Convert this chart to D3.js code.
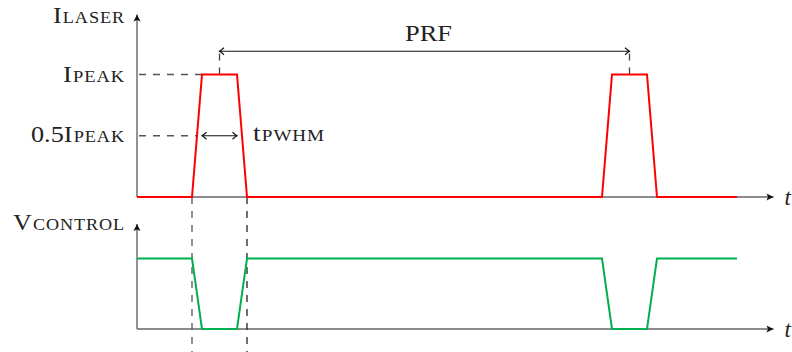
<!DOCTYPE html>
<html>
<head>
<meta charset="utf-8">
<script src="https://cdn.jsdelivr.net/npm/d3@7"></script>
<style>
  body { margin: 0; background: #fff; }
  svg { display: block; }
  text { font-family: "Liberation Serif", "DejaVu Serif", serif; fill: #222; }
</style>
</head>
<body>
<svg id="chart" width="792" height="352"></svg>
<script>
// time samples of the two waveforms (arbitrary time units)
var times = [0, 11, 13, 20, 22, 93, 95, 102, 104, 120];
var laser = [0, 0, 1, 1, 0, 0, 1, 1, 0, 0];
var control = [1, 1, 0, 0, 1, 1, 0, 0, 1, 1];
var tMax = 127.3;      // end of the time axes
var levelMax = 1.49;   // end of the vertical axes
var halfLevel = 0.5;
var pwhm = [13, 20];         // t_PWHM arrow
var prf = [16.5, 98.5];      // PRF arrow (pulse centres)
var edges = [11, 22];        // vertical guide lines
var prfLevel = 1.19;

var svg = d3.select("#chart");
var x = d3.scaleLinear().domain([0, 120]).range([137, 737]);
var yTop = d3.scaleLinear().domain([0, 1]).range([197, 74.5]);
var yBot = d3.scaleLinear().domain([0, 1]).range([329, 258.5]);

var defs = svg.append("defs");
defs.append("marker").attr("id", "stealth")
    .attr("markerUnits", "userSpaceOnUse")
    .attr("viewBox", "-8 -5 10 10").attr("refX", 0).attr("refY", 0)
    .attr("markerWidth", 10).attr("markerHeight", 10).attr("orient", "auto")
  .append("path").attr("d", "M0,0 L-7,-3.5 L-5.5,0 L-7,3.5 Z").attr("fill", "#111");
["toEnd", "toStart"].forEach(function(id, i) {
  defs.append("marker").attr("id", id)
      .attr("markerUnits", "userSpaceOnUse")
      .attr("viewBox", "-8 -5 10 10").attr("refX", 0).attr("refY", 0)
      .attr("markerWidth", 10).attr("markerHeight", 10)
      .attr("orient", i ? "auto-start-reverse" : "auto")
    .append("path").attr("d", "M-4.5,-3.5 Q-1.5,-0.8 0,0 Q-1.5,0.8 -4.5,3.5")
      .attr("fill", "none").attr("stroke", "#111").attr("stroke-width", 1.1);
});

// axes
function axes(y) {
  svg.append("line").attr("x1", x(0)).attr("y1", y(0)).attr("x2", x(tMax)).attr("y2", y(0))
    .attr("stroke", "#666").attr("stroke-width", 1.4).attr("marker-end", "url(#stealth)");
  svg.append("line").attr("x1", x(0)).attr("y1", y(0)).attr("x2", x(0)).attr("y2", y(levelMax))
    .attr("stroke", "#666").attr("stroke-width", 1.4).attr("marker-end", "url(#stealth)");
  svg.append("text").attr("x", x(tMax) + 11).attr("y", y(0) + 8)
    .attr("font-size", 23).attr("font-style", "italic").text("t");
}
axes(yTop);
axes(yBot);

// dashed guides
var dash = "7,7";
function dashed(x1, y1, x2, y2, col) {
  svg.append("line").attr("x1", x1).attr("y1", y1).attr("x2", x2).attr("y2", y2)
    .attr("stroke", col || "#555").attr("stroke-width", 1.3).attr("stroke-dasharray", dash);
}
dashed(x(0) + 2, yTop(1), x(13), yTop(1));
dashed(x(0) + 2, yTop(halfLevel), x(12), yTop(halfLevel));
edges.forEach(function(t, i) { dashed(x(t), yTop(0), x(t), 352, i ? "#222" : "#555"); });
prf.forEach(function(t) { dashed(x(t), yTop(1), x(t), yTop(prfLevel), "#444"); });

// waveforms
var line = function(y, vals) {
  return d3.line().x(function(d, i) { return x(times[i]); }).y(function(d) { return y(d); })(vals);
};
svg.append("path").attr("d", line(yTop, laser)).attr("fill", "none")
  .attr("stroke", "#ff0000").attr("stroke-width", 2);
svg.append("path").attr("d", line(yBot, control)).attr("fill", "none")
  .attr("stroke", "#00b050").attr("stroke-width", 2);

// dimension arrows
function dim(t0, t1, yv) {
  svg.append("line").attr("x1", x(t0)).attr("y1", yv).attr("x2", x(t1)).attr("y2", yv)
    .attr("stroke", "#111").attr("stroke-width", 1.1)
    .attr("marker-start", "url(#toStart)").attr("marker-end", "url(#toEnd)");
}
dim(pwhm[0], pwhm[1], yTop(halfLevel));
dim(prf[0], prf[1], yTop(prfLevel));

// labels
function label(px, py, main, sub, width, anchor) {
  var t = svg.append("text").attr("x", px).attr("y", py).attr("text-anchor", anchor || "end")
    .attr("font-size", 23);
  t.append("tspan").text(main);
  if (sub) t.append("tspan").attr("font-size", 16).attr("dx", 1)
    .attr("letter-spacing", 0.8).text(sub);
  if (width) t.attr("textLength", width).attr("lengthAdjust", "spacingAndGlyphs");
  return t;
}
label(125, yTop(levelMax) + 9, "I", "LASER", 72);
label(125, yTop(1) + 7.5, "I", "PEAK", 62);
label(125, yTop(halfLevel) + 6.5, "0.5I", "PEAK", 94);
label(253, yTop(halfLevel) + 5, "t", "PWHM", 72, "start");
label(x((prf[0] + prf[1]) / 2) + 4, yTop(prfLevel) - 10, "PRF", null, 47, "middle");
label(125, yBot(levelMax) + 6.5, "V", "CONTROL", 112);
</script>
</body>
</html>
